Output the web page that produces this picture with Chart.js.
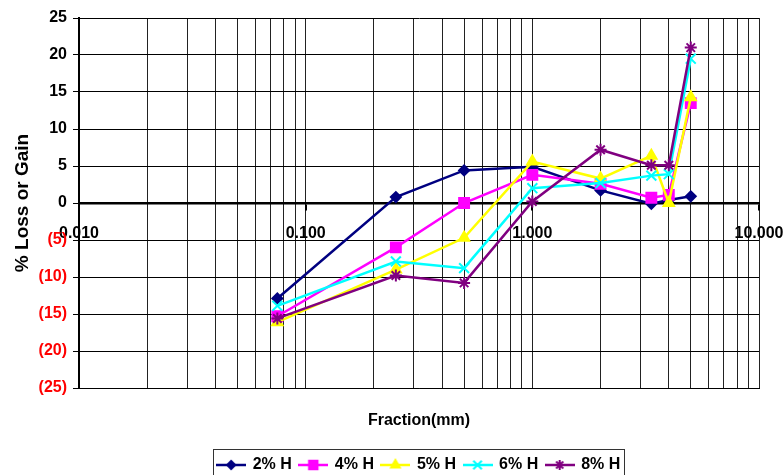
<!DOCTYPE html>
<html>
<head>
<meta charset="utf-8">
<script src="https://cdn.jsdelivr.net/npm/chart.js@4.4.1/dist/chart.umd.min.js"></script>
<style>
  html, body { margin: 0; padding: 0; background: #fff; }
  #wrap { width: 784px; height: 475px; }
</style>
</head>
<body>
<div id="wrap"><canvas id="myChart" width="784" height="475"></canvas></div>
<script>
// sieve sizes (mm) on the log x axis
let sizes = [0.075, 0.25, 0.5, 1.0, 2.0, 3.35, 4.0, 5.0];

// % loss or gain for each series
let h2 = [-12.9, 0.8, 4.4, 4.9, 1.7, -0.1, 0.4, 0.9];
let h4 = [-15.3, -6.0, 0.0, 3.8, 2.6, 0.7, 1.1, 13.5];
let h5 = [-16.1, -9.0, -4.7, 5.6, 3.3, 6.4, 0.0, 14.3];
let h6 = [-13.9, -7.9, -8.8, 2.0, 2.7, 3.7, 3.9, 19.5];
let h8 = [-15.6, -9.8, -10.8, 0.2, 7.2, 5.1, 5.1, 21.0];

let labels = ["2% H", "4% H", "5% H", "6% H", "8% H"];
let colors = ["#000080", "#FF00FF", "#FFFF00", "#00FFFF", "#800080"];
let styles = ["rectRot", "rect", "triangle", "crossRot", "star"];
let radii = [5, 7, 6, 7, 6];

// axis ticks
let xGrid = [
  0.01, 0.02, 0.03, 0.04, 0.05, 0.06, 0.07, 0.08, 0.09,
  0.1, 0.2, 0.3, 0.4, 0.5, 0.6, 0.7, 0.8, 0.9,
  1, 2, 3, 4, 5, 6, 7, 8, 9, 10,
];
let xDecades = [0.01, 0.1, 1, 10];
let yMin = -25, yMax = 25, yStep = 5;

const FONT = "'Liberation Sans', Arial, sans-serif";

function toPoints(vals) {
  return vals.map((v, i) => ({ x: sizes[i], y: v }));
}

// little line+marker picture for the legend
function legendIcon(i) {
  let c = document.createElement("canvas");
  c.width = 30;
  c.height = 16;
  let g = c.getContext("2d");
  g.strokeStyle = colors[i];
  g.fillStyle = colors[i];
  g.lineWidth = 2.5;
  g.beginPath();
  g.moveTo(0, 8);
  g.lineTo(30, 8);
  g.stroke();
  g.lineWidth = 2;
  Chart.helpers.drawPoint(g, { pointStyle: styles[i], radius: radii[i] - 1, rotation: 0, borderWidth: 2 }, 15, 8);
  return c;
}

let seriesValues = [h2, h4, h5, h6, h8];
let datasets = seriesValues.map((vals, i) => ({
  label: labels[i],
  data: toPoints(vals),
  borderColor: colors[i],
  backgroundColor: colors[i],
  borderWidth: 2.5,
  pointStyle: styles[i],
  pointRadius: radii[i],
  pointBorderWidth: 2,
  pointBorderColor: colors[i],
  pointBackgroundColor: colors[i],
  order: 5 - i,
  tension: 0,
}));

// legend centred under the plot, with a border round it
const legendBox = {
  id: "legendBox",
  afterUpdate(chart) {
    let lg = chart.legend;
    let boxes = lg.legendHitBoxes;
    if (!boxes || !boxes.length) return;
    let first = boxes[0], last = boxes[boxes.length - 1];
    let now = (first.left + last.left + last.width) / 2;
    let want = (chart.chartArea.left + chart.chartArea.right) / 2;
    let d = want - now;
    lg.left += d;
    lg.right += d;
    boxes.forEach((b) => (b.left += d));
  },
  afterDraw(chart) {
    let boxes = chart.legend.legendHitBoxes;
    if (!boxes || !boxes.length) return;
    let first = boxes[0], last = boxes[boxes.length - 1];
    let ctx = chart.ctx;
    let cy = first.top + first.height / 2;
    ctx.save();
    ctx.strokeStyle = "#333";
    ctx.lineWidth = 1;
    ctx.strokeRect(Math.round(first.left) - 4.5, Math.round(cy) - 15.5, Math.round(last.left + last.width - first.left) + 8, 40);
    ctx.restore();
  },
};

function noSidePadding(scale) {
  scale.paddingLeft = 0;
  scale.paddingRight = 0;
}

let ctx = document.getElementById("myChart").getContext("2d");
let myChart = new Chart(ctx, {
  type: "line",
  data: { datasets: datasets },
  plugins: [legendBox],
  options: {
    responsive: false,
    animation: false,
    layout: { padding: { top: 18, right: 25, left: 0, bottom: -8 } },
    plugins: {
      tooltip: { enabled: false },
      legend: {
        position: "bottom",
        labels: {
          usePointStyle: true,
          pointStyleWidth: 27,
          padding: 8,
          color: "#000",
          font: { family: FONT, size: 16, weight: "bold" },
          sort: (a, b) => a.datasetIndex - b.datasetIndex,
          generateLabels(chart) {
            return labels.map((l, i) => ({
              text: l,
              datasetIndex: i,
              pointStyle: legendIcon(i),
              fillStyle: colors[i],
              strokeStyle: colors[i],
              lineWidth: 0,
              hidden: false,
            }));
          },
        },
      },
    },
    scales: {
      x: {
        type: "logarithmic",
        min: 0.01,
        max: 10,
        position: "bottom",
        afterBuildTicks(scale) {
          scale.ticks = xGrid.map((v) => ({ value: v }));
        },
        afterFit(scale) {
          noSidePadding(scale);
          scale.height = scale.chart.height + 8 - scale.chart.legend.height - 388;
        },
        ticks: { display: false, autoSkip: false },
        grid: { color: "#222", lineWidth: 1, drawTicks: false },
        border: { color: "#000", width: 1 },
        title: {
          display: true,
          text: "Fraction(mm)",
          color: "#000",
          font: { family: FONT, size: 16, weight: "bold" },
          padding: { bottom: 19 },
        },
      },
      x2: {
        type: "logarithmic",
        min: 0.01,
        max: 10,
        position: { y: 0 },
        afterBuildTicks(scale) {
          scale.ticks = xDecades.map((v) => ({ value: v }));
        },
        afterFit: noSidePadding,
        ticks: {
          autoSkip: false,
          maxRotation: 0,
          padding: 15,
          color: "#000",
          font: { family: FONT, size: 16, weight: "bold" },
          callback: (v) => Number(v).toFixed(3),
        },
        grid: { drawOnChartArea: false, drawTicks: true, tickLength: 6, color: "#000", lineWidth: 2 },
        border: { color: "#000", width: 2.5 },
      },
      y: {
        min: yMin,
        max: yMax,
        afterFit(scale) {
          scale.width = 79;
        },
        ticks: {
          stepSize: yStep,
          padding: 6,
          color: (c) => (c.tick.value < 0 ? "#FF0000" : "#000"),
          font: { family: FONT, size: 16, weight: "bold" },
          callback: (v) => (v < 0 ? "(" + -v + ")" : String(v)),
        },
        grid: { color: "#000", lineWidth: 1, tickLength: 6 },
        border: { color: "#000", width: 2 },
        title: {
          display: true,
          text: "% Loss or Gain",
          color: "#000",
          font: { family: FONT, size: 19, weight: "bold" },
          padding: { top: 11 },
        },
      },
    },
  },
});
</script>
</body>
</html>
